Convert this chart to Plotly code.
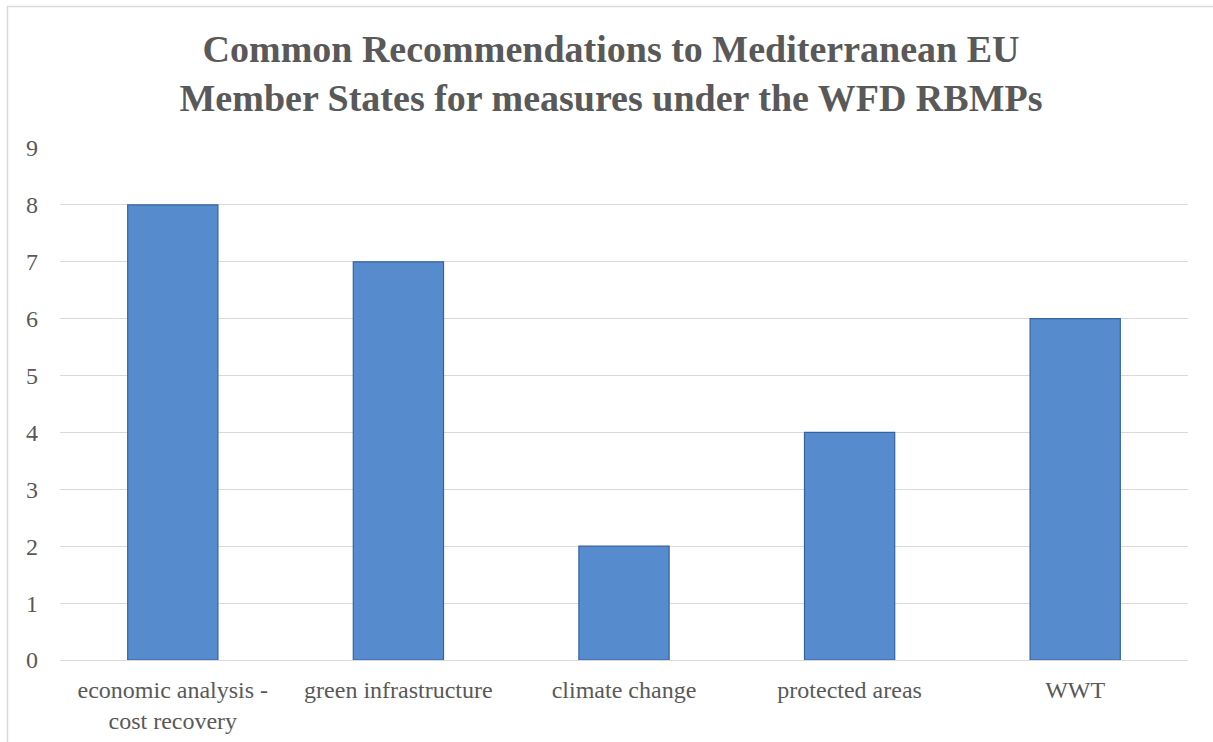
import plotly.graph_objects as go

categories = ["economic analysis -<br>cost recovery", "green infrastructure", "climate change",
              "protected areas", "WWT"]
values = [8, 7, 2, 4, 6]
y_ticks = [0, 1, 2, 3, 4, 5, 6, 7, 8, 9]

W, H = 1213, 742
L, R, T, B = 60, 25, 148, 82
pw, ph = W - L - R, H - T - B

def px_x(p):
    return (p - L) / pw

def px_y(p):
    return (H - B - p) / ph

fig = go.Figure()
fig.add_trace(go.Bar(
    x=categories, y=values,
    marker=dict(color="#568BCD", line=dict(color="#36639E", width=1.2)),
    width=0.4,
))

fig.update_layout(
    width=W, height=H,
    margin=dict(l=L, r=R, t=T, b=B),
    paper_bgcolor="white", plot_bgcolor="white",
    showlegend=False,
    font=dict(family="Liberation Serif", color="#595959", size=24),
    title=dict(
        text="<b>Common Recommendations to Mediterranean EU<br>Member States for measures under the WFD RBMPs</b>",
        x=611 / W, xanchor="center", xref="container",
        y=1 - 62 / H, yanchor="middle", yref="container",
        font=dict(family="Liberation Serif", size=38, color="#595959"),
    ),
    xaxis=dict(showgrid=False, showline=True, linecolor="#D9D9D9", linewidth=1,
               ticks="", tickfont=dict(size=24), ticklabelstandoff=8, automargin=False),
    yaxis=dict(range=[0, 9], tickvals=y_ticks, showgrid=True, gridcolor="#D9D9D9",
               gridwidth=1, zeroline=False, showline=False, ticks="",
               ticklabelstandoff=21, tickfont=dict(size=24), automargin=False),
    shapes=[dict(type="rect", xref="paper", yref="paper",
                 x0=px_x(7.5), x1=px_x(1260), y0=px_y(6.5), y1=px_y(800),
                 line=dict(color="#D9D9D9", width=1.5), layer="below")],
)

fig.write_html("out.html")
